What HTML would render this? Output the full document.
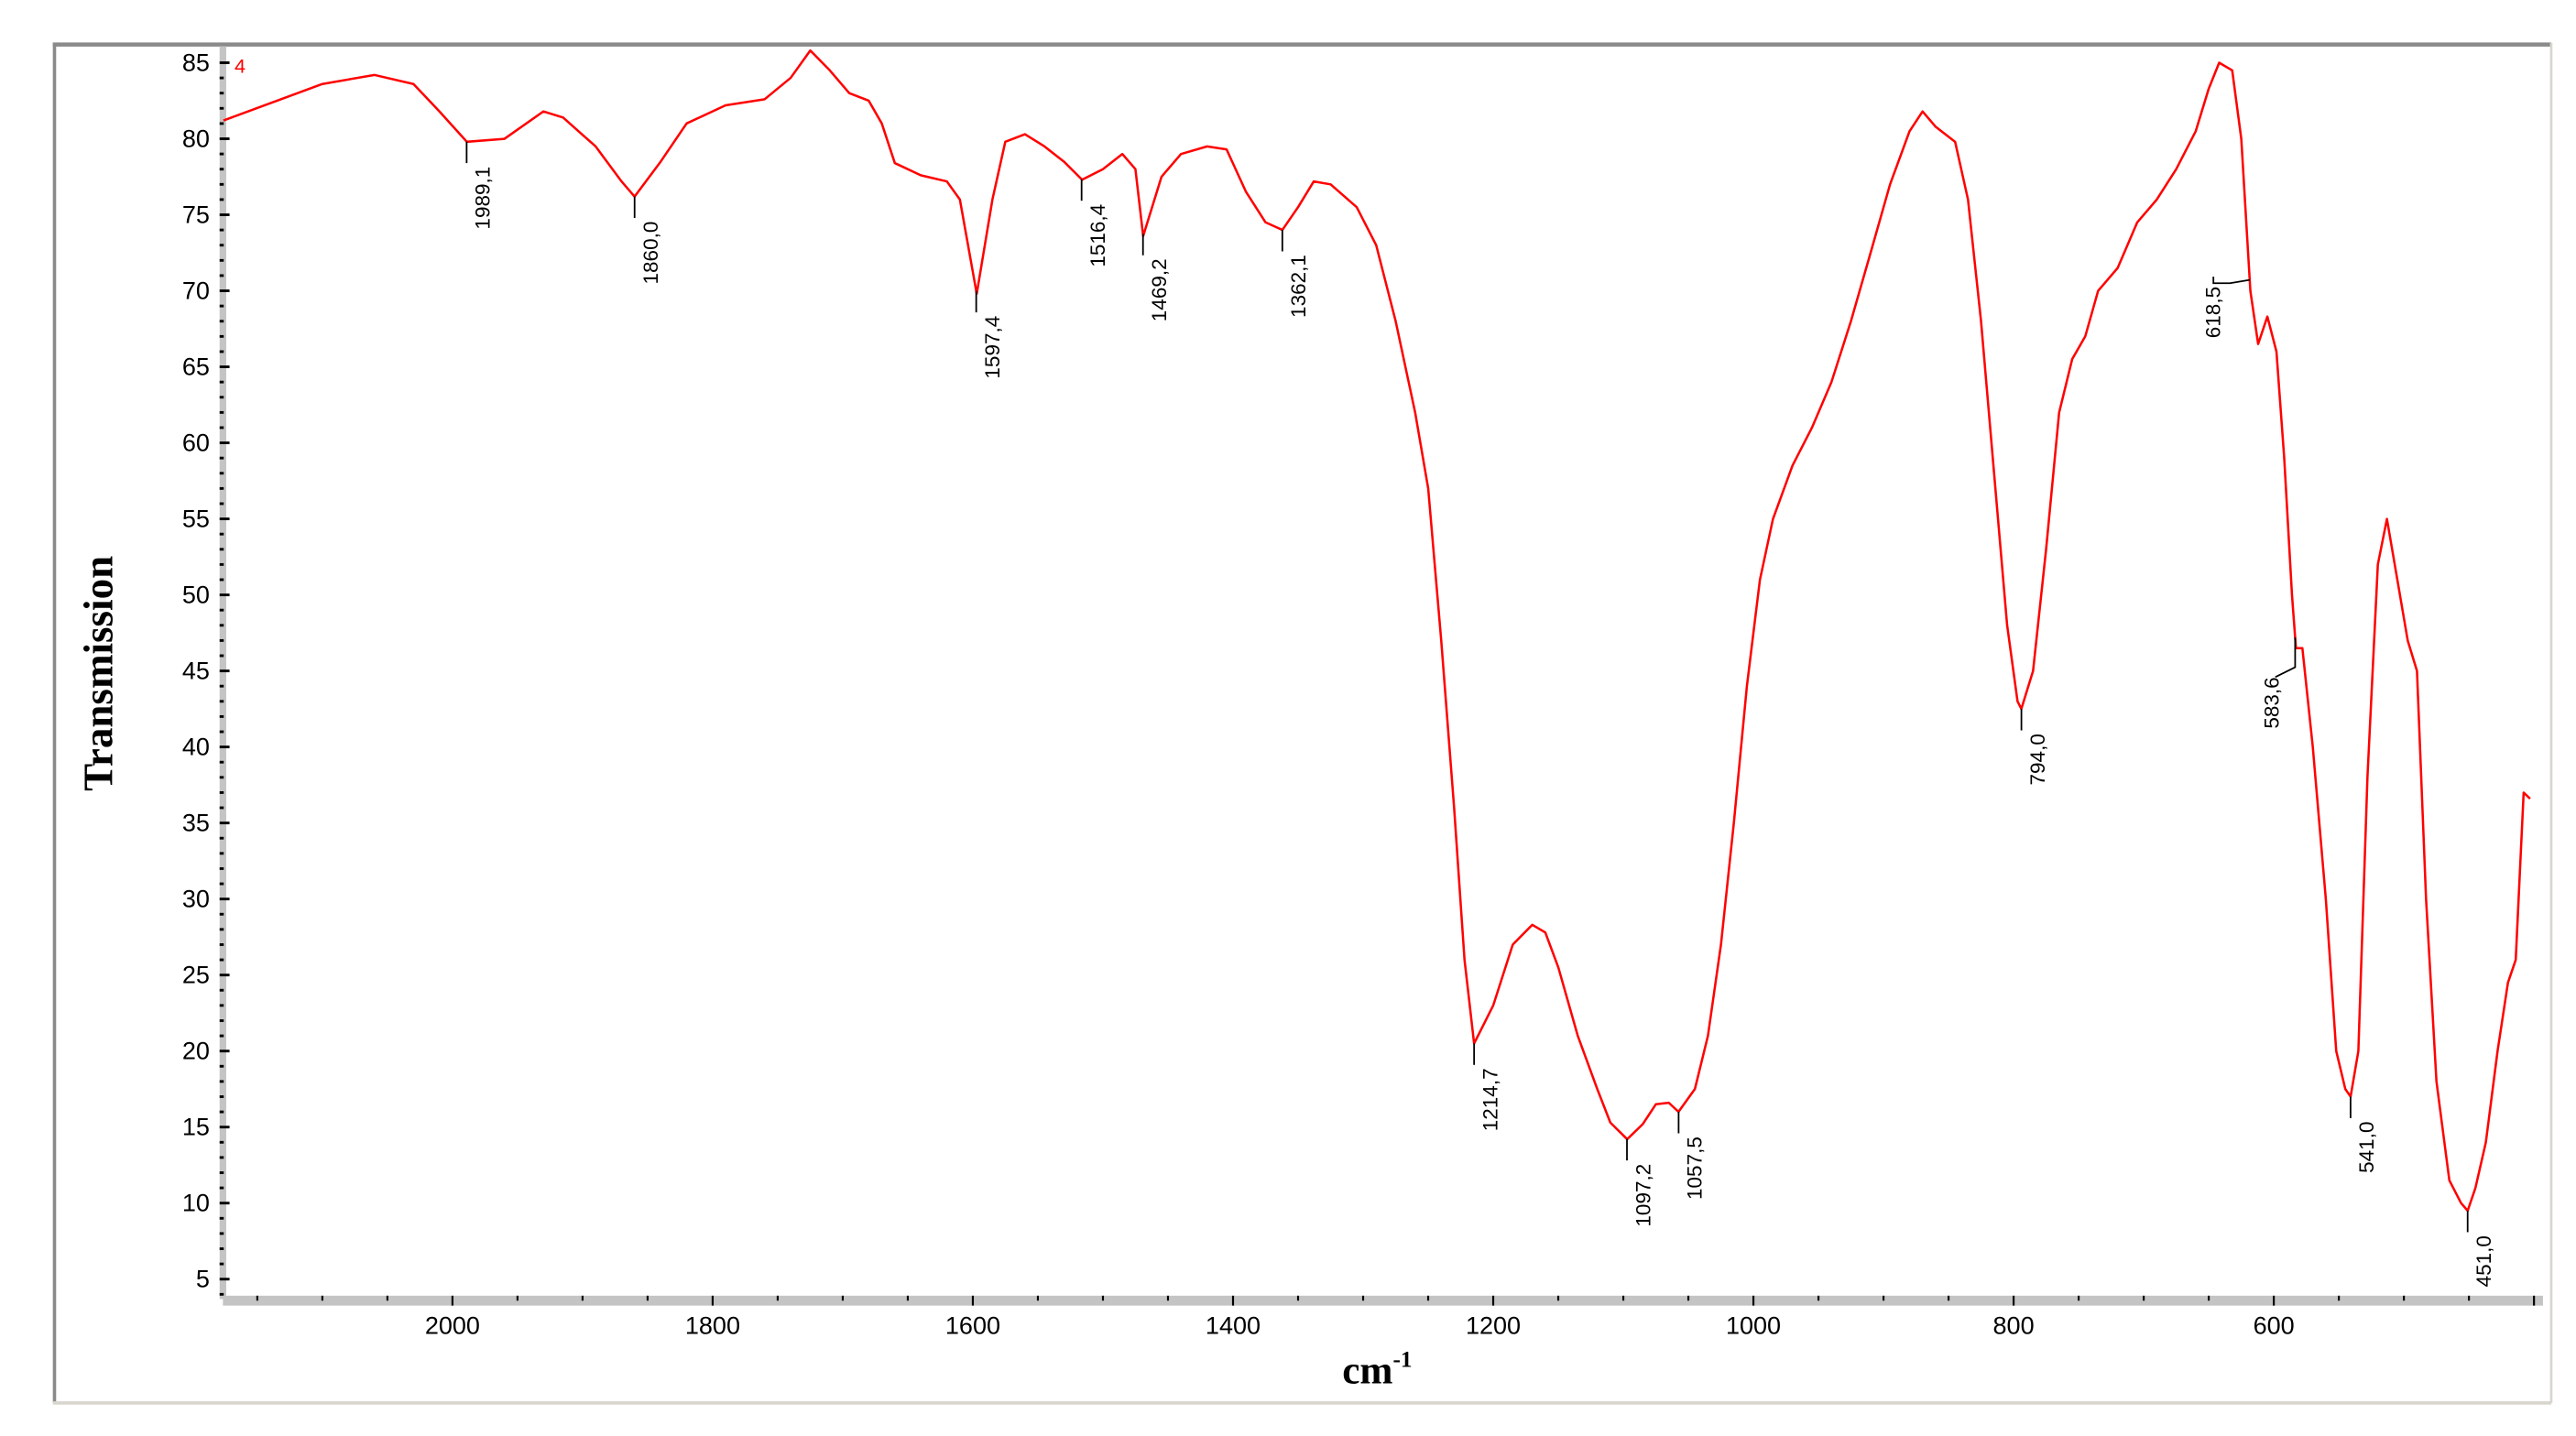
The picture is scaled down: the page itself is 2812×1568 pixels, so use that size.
<!DOCTYPE html>
<html><head><meta charset="utf-8"><style>
html,body{margin:0;padding:0;background:#fff;}
svg{display:block;font-family:"Liberation Sans",sans-serif;}
</style></head><body>
<svg id="chart" width="2812" height="1568" viewBox="0 0 1560 870" preserveAspectRatio="none" xmlns="http://www.w3.org/2000/svg">
<rect x="0" y="0" width="1560" height="870" fill="#fff"/>
<g>
<line x1="32" y1="27" x2="1545" y2="27" stroke="#8a8a8a" stroke-width="2.5"/>
<line x1="33" y1="26" x2="33" y2="850" stroke="#8a8a8a" stroke-width="2"/>
<line x1="1545" y1="26" x2="1545" y2="850" stroke="#d8d5cf" stroke-width="1.5"/>
<line x1="32" y1="850" x2="1545" y2="850" stroke="#d8d5cf" stroke-width="2"/>
</g>
<g id="axes"></g>
<g id="plot"></g>
<text x="142" y="44" fill="#ff0000" font-size="12">4</text>
<text transform="translate(68,408) rotate(-90)" text-anchor="middle" font-family="Liberation Serif,serif" font-weight="bold" font-size="25">Transmission</text>
<text x="834" y="838" text-anchor="middle" font-family="Liberation Serif,serif" font-weight="bold" font-size="24">cm<tspan font-size="14" dy="-10">-1</tspan></text>
</svg>
<script>
const wavenumbers=[2176,2100,2060,2030,2010,1989,1960,1930,1915,1890,1870,1860,1840,1820,1790,1760,1740,1725,1710,1695,1680,1670,1660,1640,1620,1610,1597,1585,1575,1560,1545,1530,1516,1500,1485,1475,1469,1455,1440,1420,1405,1390,1375,1362,1350,1338,1325,1305,1290,1275,1260,1250,1240,1230,1222,1214.7,1200,1185,1170,1160,1150,1135,1120,1110,1097,1085,1075,1065,1057.5,1045,1035,1025,1015,1005,995,985,970,955,940,925,910,895,880,870,860,845,835,825,815,805,797,794,785,775,765,755,745,735,720,705,690,675,660,650,642,632,625,618,612,605,598,592,586,583,578,570,560,552,545,541,535,528,520,513,505,497,490,483,475,465,456,451,445,437,428,420,414,408,403];
const transmission=[81.2,83.6,84.2,83.6,81.8,79.8,80.0,81.8,81.4,79.5,77.2,76.2,78.5,81.0,82.2,82.6,84.0,85.8,84.5,83.0,82.5,81.0,78.4,77.6,77.2,76.0,69.8,76.0,79.8,80.3,79.5,78.5,77.3,78.0,79.0,78.0,73.6,77.5,79.0,79.5,79.3,76.5,74.5,74.0,75.5,77.2,77.0,75.5,73.0,68.0,62.0,57.0,47.0,36.0,26.0,20.5,23.0,27.0,28.3,27.8,25.5,21.0,17.5,15.3,14.2,15.2,16.5,16.6,16.0,17.5,21.0,27.0,35.0,44.0,51.0,55.0,58.5,61.0,64.0,68.0,72.5,77.0,80.5,81.8,80.8,79.8,76.0,68.0,58.0,48.0,43.0,42.5,45.0,53.0,62.0,65.5,67.0,70.0,71.5,74.5,76.0,78.0,80.5,83.3,85.0,84.5,80.0,70.0,66.5,68.3,66.0,59.0,50.0,46.5,46.5,40.0,30.0,20.0,17.5,17.0,20.0,38.0,52.0,55.0,51.0,47.0,45.0,30.0,18.0,11.5,10.0,9.5,11.0,14.0,20.0,24.5,26.0,37.0,36.6];
const peakLabels=["1989,1","1860,0","1597,4","1516,4","1469,2","1362,1","1214,7","1097,2","1057,5","794,0","618,5","583,6","541,0","451,0"];
const peakPositions=[1989.1,1860,1597.4,1516.4,1469.2,1362.1,1214.7,1097.2,1057.5,794,618.5,583.6,541,451];
const yTicks=[5,10,15,20,25,30,35,40,45,50,55,60,65,70,75,80,85];
const xTicks=[2000,1800,1600,1400,1200,1000,800,600];

const NS="http://www.w3.org/2000/svg";
function xs(w){return 274+(2000-w)/200*157.57;}
function ys(t){return 38+(85-t)/5*46.06;}
function mk(tag,attrs,parent){const e=document.createElementNS(NS,tag);for(const k in attrs)e.setAttribute(k,attrs[k]);parent.appendChild(e);return e;}
function interp(w){for(let i=0;i<wavenumbers.length-1;i++){const a=wavenumbers[i],b=wavenumbers[i+1];if((w<=a&&w>=b)){const f=(a-w)/(a-b);return transmission[i]+f*(transmission[i+1]-transmission[i]);}}return transmission[transmission.length-1];}
const axes=document.getElementById('axes');
const plot=document.getElementById('plot');
const yb=mk('rect',{x:133,y:28,width:4,height:759,fill:'#c4c4c4'},axes);


for(let v=4;v<=86;v++){const y=ys(v);if(y<29||y>786)continue;mk('rect',{x:133,y:y-0.8,width:(v%5===0)?6:2.5,height:1.6,fill:'#000'},axes);}
yTicks.forEach(v=>{const t=mk('text',{x:127,y:ys(v)+5,'text-anchor':'end','font-size':15,fill:'#000'},axes);t.textContent=v;

});
const xb=mk('rect',{x:135,y:785,width:1405,height:6,fill:'#c4c4c4'},axes);


for(let w=2150;w>=400;w-=50){const x=xs(w);mk('rect',{x:x-0.6,y:785,width:1.2,height:(w%200===0)?6:3,fill:'#000'},axes);}
xTicks.forEach(w=>{const t=mk('text',{x:xs(w),y:808,'text-anchor':'middle','font-size':15,fill:'#000'},axes);t.textContent=w;

});
let d='';wavenumbers.forEach((w,i)=>{d+=(i?'L':'M')+xs(w).toFixed(1)+','+ys(transmission[i]).toFixed(1);});
const p=mk('path',{d:d,fill:'none',stroke:'#ff0000','stroke-width':1.4,'stroke-linejoin':'round'},plot);


peakPositions.forEach((w,i)=>{const x=xs(w),y=ys(interp(w));
const g=mk('g',{},plot);


let lx=x,ty=y+15;
if(peakLabels[i]==="618,5"){lx=x-12;mk('polyline',{points:x+','+y+' '+lx+','+(y+2)+' '+(lx-10)+','+(y+2)+' '+(lx-10)+','+(y-2),fill:'none',stroke:'#000','stroke-width':1},g);lx=lx-20;ty=y+4;}
else if(peakLabels[i]==="583,6"){mk('polyline',{points:x+','+y+' '+x+','+(y+18)+' '+(x-12)+','+(y+24),fill:'none',stroke:'#000','stroke-width':1},g);lx=x-24;ty=y+24;}
else{mk('line',{x1:x,y1:y,x2:x,y2:y+13,stroke:'#000','stroke-width':1},g);}
const t=mk('text',{transform:'translate('+(lx+14)+','+ty+') rotate(-90)','text-anchor':'end','font-size':12.5,fill:'#000'},g);t.textContent=peakLabels[i];});
</script>
</body></html>
